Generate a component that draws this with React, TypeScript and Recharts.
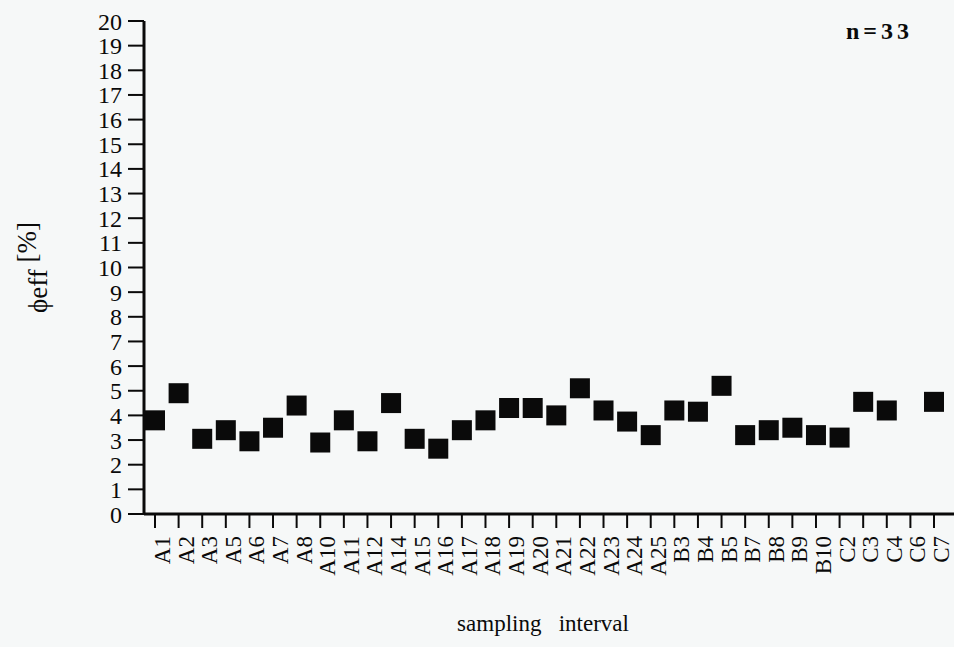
import React from 'react'
import { ComposedChart, Scatter, XAxis, YAxis, Label } from 'recharts'

// sampling intervals along the x axis (C6 has no value, n = 33)
const intervals = [
  'A1', 'A2', 'A3', 'A5', 'A6', 'A7', 'A8', 'A10', 'A11', 'A12', 'A14', 'A15',
  'A16', 'A17', 'A18', 'A19', 'A20', 'A21', 'A22', 'A23', 'A24', 'A25',
  'B3', 'B4', 'B5', 'B7', 'B8', 'B9', 'B10', 'C2', 'C3', 'C4', 'C6', 'C7',
]
const phiEff: (number | null)[] = [
  3.8, 4.9, 3.05, 3.4, 2.95, 3.5, 4.4, 2.9, 3.8, 2.95, 4.5, 3.05,
  2.65, 3.4, 3.8, 4.3, 4.3, 4.0, 5.1, 4.2, 3.75, 3.2,
  4.2, 4.15, 5.2, 3.2, 3.4, 3.5, 3.2, 3.1, 4.55, 4.2, null, 4.55,
]
const yTicks = [0, 1, 2, 3, 4, 5, 6, 7, 8, 9, 10, 11, 12, 13, 14, 15, 16, 17, 18, 19, 20]

const data = intervals.map((name, i) => ({ name, value: phiEff[i] }))

const FONT = '"Liberation Serif", "DejaVu Serif", serif'
const INK = '#0a0a0a'

function SquareMark(props: any) {
  const { cx, cy, payload } = props
  if (payload?.value == null || !Number.isFinite(cx) || !Number.isFinite(cy)) return <g />
  return <rect x={cx - 10} y={cy - 10} width={20} height={20} fill={INK} />
}

function IntervalTick(props: any) {
  const { x, y, payload } = props
  return (
    <g transform={`translate(${x},${y})`}>
      <text
        transform="rotate(-90)"
        x={-6}
        y={15}
        textAnchor="end"
        fontFamily={FONT}
        fontSize={23}
        fill={INK}
      >
        {payload.value}
      </text>
    </g>
  )
}

function YTitle(props: any) {
  const vb = props.viewBox
  const cx = 47
  const cy = vb.y + vb.height / 2
  return (
    <text
      transform={`translate(${cx},${cy}) rotate(-90)`}
      textAnchor="middle"
      fontFamily={FONT}
      fontSize={27}
      fill={INK}
    >
      <tspan>ϕeff</tspan>
      <tspan dy={-11}> [%]</tspan>
    </text>
  )
}

function XTitle() {
  return (
    <text
      x={543}
      y={631}
      textAnchor="middle"
      fontFamily={FONT}
      fontSize={23}
      fill={INK}
      style={{ whiteSpace: 'pre' }}
    >
      {'sampling   interval'}
    </text>
  )
}

export default function App() {
  return (
    <div
      style={{
        position: 'absolute',
        left: 0,
        top: 0,
        width: 954,
        height: 647,
        background: '#f6f8f8',
      }}
    >
      <ComposedChart
        width={954}
        height={647}
        data={data}
        margin={{ top: 21, right: 0, bottom: 0, left: 0 }}
      >
        <XAxis
          dataKey="name"
          type="category"
          interval={0}
          height={133}
          padding={{ left: 11, right: 20 }}
          axisLine={{ stroke: INK, strokeWidth: 3 }}
          tickLine={{ stroke: INK, strokeWidth: 2 }}
          tickSize={14}
          tickMargin={2}
          tick={<IntervalTick />}
        >
          <Label content={<XTitle />} />
        </XAxis>
        <YAxis
          type="number"
          domain={[0, 20]}
          ticks={yTicks}
          interval={0}
          width={144}
          axisLine={{ stroke: INK, strokeWidth: 3 }}
          tickLine={{ stroke: INK, strokeWidth: 2 }}
          tickSize={16}
          tickMargin={6}
          tick={{ fill: INK, fontFamily: FONT, fontSize: 24 }}
        >
          <Label content={<YTitle />} />
        </YAxis>
        <Scatter dataKey="value" shape={<SquareMark />} isAnimationActive={false} />
      </ComposedChart>
      <div
        style={{
          position: 'absolute',
          left: 846,
          top: 18,
          fontFamily: FONT,
          fontWeight: 'bold',
          fontSize: 24,
          letterSpacing: 4,
          color: INK,
        }}
      >
        n=33
      </div>
    </div>
  )
}
